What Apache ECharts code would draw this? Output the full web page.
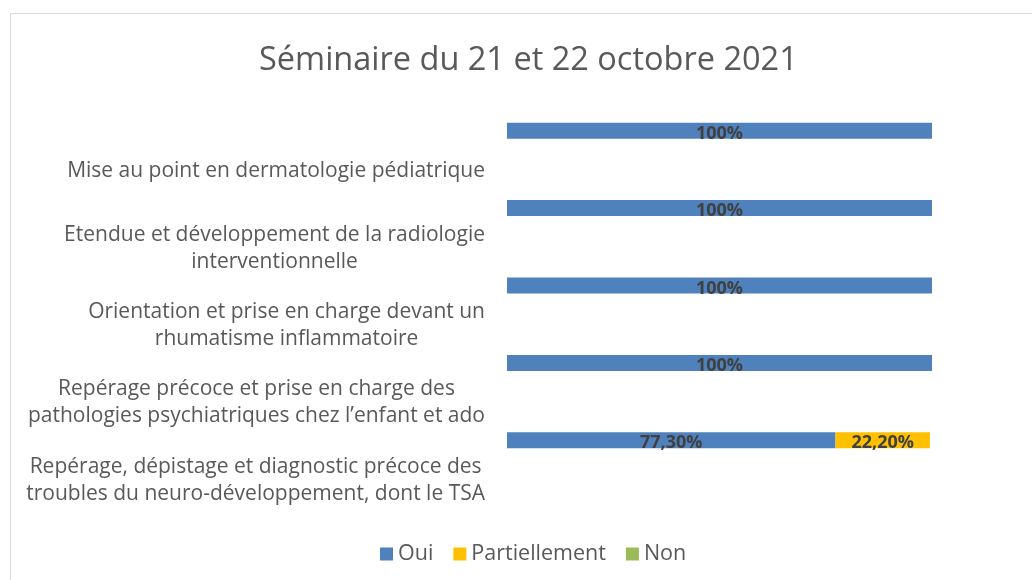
<!DOCTYPE html>
<html><head><meta charset="utf-8">
<script src="https://cdn.jsdelivr.net/npm/echarts@6/dist/echarts.min.js"></script>
<style>html,body{margin:0;padding:0;background:#fff}#c{width:1032px;height:580px}</style>
</head><body><div id="c"></div>
<script>
const titleText = 'Séminaire du 21 et 22 octobre 2021';
const categories = [
  'Mise au point en dermatologie pédiatrique',
  'Etendue et développement de la radiologie\ninterventionnelle',
  'Orientation et prise en charge devant un\nrhumatisme inflammatoire',
  'Repérage précoce et prise en charge des\npathologies psychiatriques chez l’enfant et ado',
  'Repérage, dépistage et diagnostic précoce des\ntroubles du neuro-développement, dont le TSA'
];
const seriesNames = ['Oui', 'Partiellement', 'Non'];
const oui = [100, 100, 100, 100, 77.3];
const partiellement = [0, 0, 0, 0, 22.2];
const non = [0, 0, 0, 0, 0];
const labelTexts = {
  'Oui': ['100%', '100%', '100%', '100%', '77,30%'],
  'Partiellement': ['', '', '', '', '22,20%'],
  'Non': ['', '', '', '', '']
};
const colors = ['#4F81BD', '#FFC000', '#9BBB59'];
const FONT = '"Open Sans", Lato, sans-serif';

const chart = echarts.init(document.getElementById('c'));
function mk(name, data, color) {
  return {
    name: name, type: 'bar', stack: 'total', data: data, barWidth: 16,
    itemStyle: { color: color },
    label: {
      show: true, position: 'inside', color: '#404040', fontWeight: 'bold',
      fontSize: 18, fontFamily: FONT, offset: [0, 3],
      formatter: p => labelTexts[name][p.dataIndex]
    }
  };
}
chart.setOption({
  animation: false,
  color: colors,
  graphic: [{
    type: 'rect', silent: true, z: -1,
    shape: { x: 10.5, y: 13.5, width: 1100, height: 700 },
    style: { fill: 'none', stroke: '#D9D9D9', lineWidth: 1 }
  }],
  title: {
    text: titleText, left: 254, top: 39,
    textStyle: { fontFamily: FONT, fontSize: 32.5, fontWeight: 'normal', color: '#595959' }
  },
  legend: {
    left: 375, top: 538, itemWidth: 13, itemHeight: 13, itemGap: 20,
    icon: 'rect',
    data: seriesNames,
    textStyle: { fontFamily: FONT, fontSize: 21.5, color: '#595959' }
  },
  grid: { left: 507, right: 100, top: 92, bottom: 101, containLabel: false },
  xAxis: { type: 'value', min: 0, max: 100, show: false },
  yAxis: {
    type: 'category', inverse: true, data: categories,
    axisLine: { show: false }, axisTick: { show: false }, splitLine: { show: false },
    axisLabel: {
      margin: 22, align: 'right', verticalAlign: 'middle',
      padding: [80, 0, 0, 0],
      formatter: v => v.split('\n').map(s => '{c|' + s + '}').join('\n'),
      rich: { c: { align: 'center', fontFamily: FONT, fontSize: 21, color: '#595959', lineHeight: 27 } }
    }
  },
  series: [mk('Oui', oui, colors[0]), mk('Partiellement', partiellement, colors[1]), mk('Non', non, colors[2])]
});
</script></body></html>
